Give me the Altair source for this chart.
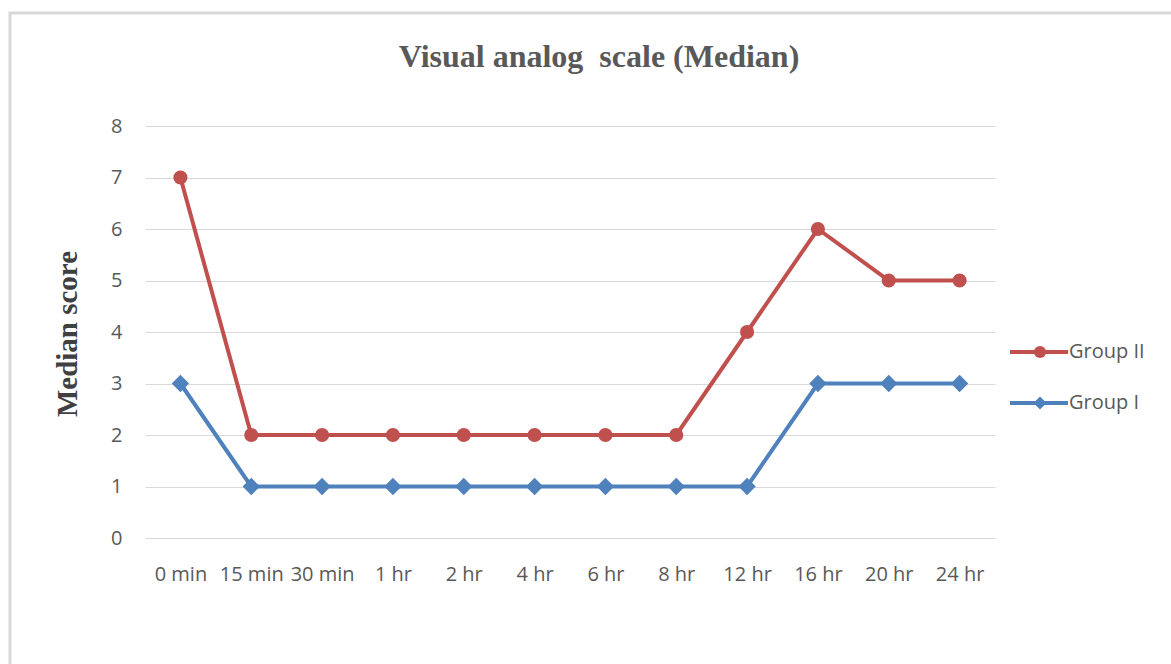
import altair as alt
import pandas as pd

# Time points and median VAS scores per group
times = ["0 min", "15 min", "30 min", "1 hr", "2 hr", "4 hr", "6 hr",
         "8 hr", "12 hr", "16 hr", "20 hr", "24 hr"]
group_ii = [7, 2, 2, 2, 2, 2, 2, 2, 4, 6, 5, 5]
group_i = [3, 1, 1, 1, 1, 1, 1, 1, 1, 3, 3, 3]

RED = "#C0504D"
BLUE = "#4F81BD"
LABEL_FONT = "Open Sans"
SERIF = "Liberation Serif"

df2 = pd.DataFrame({"time": times, "score": group_ii})
df1 = pd.DataFrame({"time": times, "score": group_i})

x = alt.X(
    "time:N", sort=times, title=None,
    scale=alt.Scale(type="point", padding=0.5),
    axis=alt.Axis(labelAngle=0, ticks=False, domain=False, grid=False,
                  labelPadding=26, labelFont=LABEL_FONT, labelFontSize=20,
                  labelColor="#595959"),
)
y = alt.Y(
    "score:Q", title=None,
    scale=alt.Scale(domain=[0, 8], nice=False),
    axis=alt.Axis(values=list(range(9)), ticks=False, domain=False,
                  grid=True, gridColor="#D9D9D9", gridWidth=1,
                  labelPadding=23, labelFont=LABEL_FONT, labelFontSize=20,
                  labelColor="#595959"),
)

def series(df, color, shape, size):
    line = alt.Chart(df).mark_line(color=color, strokeWidth=4).encode(x=x, y=y)
    pts = alt.Chart(df).mark_point(
        color=color, fill=color, filled=True, opacity=1, shape=shape, size=size
    ).encode(x=x, y=y)
    return line + pts

red = series(df2, RED, "circle", 200)
blue = series(df1, BLUE, "diamond", 300)

# outer frame around the whole chart
frame = alt.Chart(pd.DataFrame({"a": [0]})).mark_rect(
    fill=None, stroke="#D9D9D9", strokeWidth=3
).encode(x=alt.value(-135), x2=alt.value(1100), y=alt.value(-113), y2=alt.value(620))

title = alt.Chart(pd.DataFrame({"t": ["Visual analog\u00a0 scale (Median)"]})).mark_text(
    font=SERIF, fontSize=32, fontWeight="bold", color="#595959", align="center",
    baseline="middle"
).encode(text="t:N", x=alt.value(454), y=alt.value(-69))

ytitle = alt.Chart(pd.DataFrame({"t": ["Median score"]})).mark_text(
    font=SERIF, fontSize=29, fontWeight="bold", color="#404040", align="center",
    baseline="middle", angle=270
).encode(text="t:N", x=alt.value(-77), y=alt.value(208))

def legend_entry(label, color, shape, size, ypix):
    base = pd.DataFrame({"t": [label]})
    rule = alt.Chart(base).mark_rule(color=color, strokeWidth=4).encode(
        x=alt.value(865), x2=alt.value(923), y=alt.value(ypix))
    sym = alt.Chart(base).mark_point(
        color=color, fill=color, filled=True, opacity=1, shape=shape, size=size
    ).encode(x=alt.value(895), y=alt.value(ypix))
    txt = alt.Chart(base).mark_text(
        font=LABEL_FONT, fontSize=20, color="#595959", align="left", baseline="middle"
    ).encode(text="t:N", x=alt.value(924), y=alt.value(ypix))
    return rule + sym + txt

leg = legend_entry("Group II", RED, "circle", 150, 226) + \
    legend_entry("Group I", BLUE, "diamond", 170, 277)

chart = alt.layer(frame, red, blue, title, ytitle, leg).properties(
    width=850, height=412,
    autosize=alt.AutoSizeParams(type="none"),
    padding={"left": 145, "top": 126, "right": 176, "bottom": 126},
    background="white",
).configure_view(stroke=None)

chart.save("out.html", embed_options={"renderer": "svg", "actions": False})
